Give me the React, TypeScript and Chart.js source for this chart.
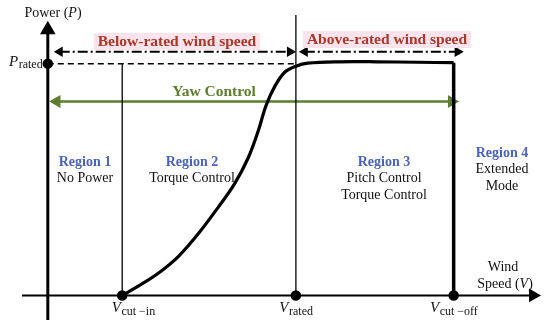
import React, { useEffect, useRef } from "react";
import { Chart, registerables } from "chart.js";

Chart.register(...registerables);

// Wind speed (arbitrary units) and normalized power of the power curve
const windSpeed = [3.0, 3.68, 4.48, 5.28, 6.08, 6.88, 7.52, 8.08, 8.48, 8.8, 9.16, 9.56, 10.0, 10.48, 11.68, 13.28, 14.88, 16.36];
const power = [0, 0.042, 0.098, 0.17, 0.268, 0.382, 0.48, 0.594, 0.709, 0.82, 0.904, 0.964, 0.989, 1.002, 1.008, 1.008, 1.006, 1.004];

const V_CUT_IN = 3;
const V_RATED = 10;
const V_CUT_OFF = 16.36;
const P_RATED = 1;

const X_MIN = -1.04;
const X_MAX = 19.88;
const Y_MIN = -0.106;
const Y_MAX = 1.2314;

const SERIF = '"Liberation Serif", "Times New Roman", serif';
const RED = "#a8382a";
const PINK = "#fde3ec";
const BLUE = "#4a63b8";
const GREEN = "#5e7d2e";

const regionTitles = ["Region 1", "Region 2", "Region 3", "Region 4"];
const regionLines = [["No Power"], ["Torque Control"], ["Pitch Control", "Torque Control"], ["Extended", "Mode"]];

function line(data: { x: number; y: number }[], opts: any) {
  return {
    data,
    showLine: true,
    borderColor: "#000",
    backgroundColor: "#000",
    borderWidth: 1.5,
    pointRadius: 0,
    pointHoverRadius: 0,
    clip: false,
    ...opts,
  };
}

const textPlugin = {
  id: "texts",
  afterDatasetsDraw(chart: any) {
    const ctx = chart.ctx as CanvasRenderingContext2D;
    const xs = chart.scales.x;
    const ys = chart.scales.y;
    ctx.save();
    ctx.textAlign = "center";
    ctx.textBaseline = "middle";

    // Below / above rated labels with pink background
    const boxed = (t: string, cx: number, cy: number) => {
      ctx.font = `bold 15.5px ${SERIF}`;
      const w = ctx.measureText(t).width;
      ctx.fillStyle = PINK;
      ctx.fillRect(cx - w / 2 - 4, cy - 9, w + 8, 17);
      ctx.fillStyle = RED;
      ctx.fillText(t, cx, cy);
    };
    boxed("Below-rated wind speed", 177, 42);
    boxed("Above-rated wind speed", 387, 40);

    ctx.font = `bold 15.5px ${SERIF}`;
    ctx.fillStyle = GREEN;
    ctx.fillText("Yaw Control", 214, 92);

    const cxs = [85, 192, 384, 502];
    const tops = [162, 162, 162, 153];
    regionTitles.forEach((t, i) => {
      ctx.font = `bold 14px ${SERIF}`;
      ctx.fillStyle = BLUE;
      ctx.fillText(t, cxs[i], tops[i]);
      ctx.font = `14px ${SERIF}`;
      ctx.fillStyle = "#111";
      regionLines[i].forEach((l, j) => ctx.fillText(l, cxs[i], tops[i] + 16.5 * (j + 1)));
    });

    // Axis titles
    ctx.fillStyle = "#111";
    ctx.textAlign = "left";
    const mixed = (parts: [string, string][], x: number, y: number) => {
      let total = 0;
      parts.forEach(([t, f]) => { ctx.font = f; total += ctx.measureText(t).width; });
      let cx = x - total / 2;
      parts.forEach(([t, f]) => { ctx.font = f; ctx.fillText(t, cx, y); cx += ctx.measureText(t).width; });
    };
    mixed([["Power (", `14px ${SERIF}`], ["P", `italic 14px ${SERIF}`], [")", `14px ${SERIF}`]], 53, 13);
    mixed([["Wind", `14px ${SERIF}`]], 503, 267);
    mixed([["Speed (", `14px ${SERIF}`], ["V", `italic 14px ${SERIF}`], [")", `14px ${SERIF}`]], 505, 284);

    // Subscripted labels
    const sub = (main: string, s: string, x: number, y: number, align: "center" | "left" = "center") => {
      ctx.font = `italic 15px ${SERIF}`;
      const w1 = ctx.measureText(main).width;
      ctx.font = `12px ${SERIF}`;
      const w2 = ctx.measureText(s).width;
      const sx = align === "center" ? x - (w1 + w2) / 2 : x;
      ctx.font = `italic 15px ${SERIF}`;
      ctx.fillText(main, sx, y);
      ctx.font = `12px ${SERIF}`;
      ctx.fillText(s, sx + w1 + 0.5, y + 3);
    };
    const py = ys.getPixelForValue(0) + 13;
    sub("V", "cut \u2212in", xs.getPixelForValue(V_CUT_IN) + 11, py);
    sub("V", "rated", xs.getPixelForValue(V_RATED), py);
    sub("V", "cut \u2212off", xs.getPixelForValue(V_CUT_OFF), py);
    sub("P", "rated", 9, ys.getPixelForValue(P_RATED) - 2, "left");
    ctx.restore();
  },
};

export default function App() {
  const ref = useRef<HTMLCanvasElement>(null);
  useEffect(() => {
    if (!ref.current) return;
    const curve = windSpeed.map((x, i) => ({ x, y: power[i] }));
    const last = curve[curve.length - 1];
    const dashDot = [10, 3, 2, 3];
    const arrowY = 1.051;
    const chart = new Chart(ref.current, {
      type: "scatter",
      data: {
        datasets: [
          // axes
          line([{ x: 0, y: Y_MIN }, { x: 0, y: 1.1465 }], {
            borderWidth: 3, pointStyle: "triangle", pointRadius: [0, 6], rotation: 0,
          }),
          line([{ x: X_MIN, y: 0 }, { x: 19.56, y: 0 }], {
            borderWidth: 2, pointStyle: "triangle", pointRadius: [0, 6], rotation: 90,
          }),
          // guides
          line([{ x: V_CUT_IN, y: 0 }, { x: V_CUT_IN, y: P_RATED }], { borderWidth: 1.3 }),
          line([{ x: V_RATED, y: 0 }, { x: V_RATED, y: 1.21 }], { borderWidth: 1.3 }),
          line([{ x: 0, y: P_RATED }, { x: V_RATED, y: P_RATED }], { borderWidth: 1.5, borderDash: [6, 4] }),
          // region arrows
          line([{ x: 0.48, y: arrowY }, { x: 9.76, y: arrowY }], {
            borderWidth: 2, borderDash: dashDot, pointStyle: "triangle", pointRadius: 4, rotation: [270, 90],
          }),
          line([{ x: 10.36, y: arrowY }, { x: 16.52, y: arrowY }], {
            borderWidth: 2, borderDash: dashDot, pointStyle: "triangle", pointRadius: 4, rotation: [270, 90],
          }),
          // power curve
          line(curve, { borderWidth: 3.2, tension: 0.35 }),
          line([last, { x: V_CUT_OFF, y: 0 }], { borderWidth: 3.5 }),
          // yaw control arrow
          line([{ x: 0.36, y: 0.837 }, { x: 16.28, y: 0.837 }], {
            borderColor: GREEN, backgroundColor: GREEN, borderWidth: 2.5,
            pointStyle: "triangle", pointRadius: 5, rotation: [270, 90],
          }),
          // key points
          line([{ x: 0, y: P_RATED }, { x: V_CUT_IN, y: 0 }, { x: V_RATED, y: 0 }, { x: V_CUT_OFF, y: 0 }], {
            showLine: false, pointRadius: 4.5, pointStyle: "circle",
          }),
        ] as any,
      },
      options: {
        animation: false,
        responsive: false,
        events: [],
        layout: { padding: { left: 22, right: 5, top: 10, bottom: 4 } },
        plugins: { legend: { display: false }, tooltip: { enabled: false } },
        scales: {
          x: { type: "linear", min: X_MIN, max: X_MAX, display: false },
          y: { type: "linear", min: Y_MIN, max: Y_MAX, display: false },
        },
      },
      plugins: [textPlugin],
    });
    return () => chart.destroy();
  }, []);
  return (
    <canvas
      ref={ref}
      width={550}
      height={329}
      style={{ position: "fixed", left: 0, top: 0, width: 550, height: 329, background: "#fff" }}
    />
  );
}
